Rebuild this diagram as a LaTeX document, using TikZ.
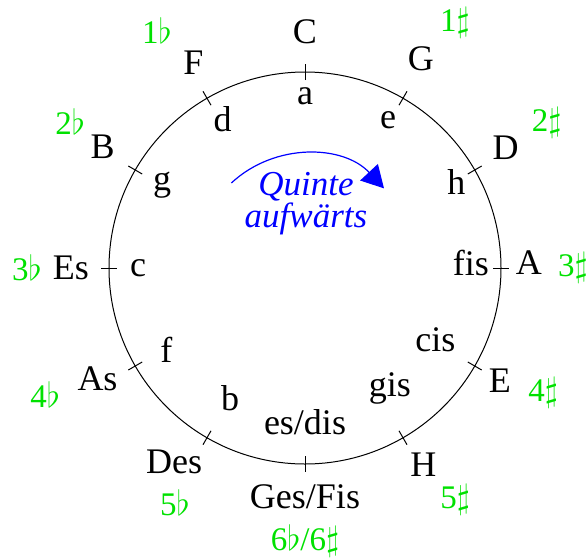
\documentclass[tikz,border=0pt]{standalone}
\usepackage{fontspec}
\setmainfont{Liberation Serif}
\usepackage{xcolor}
\usetikzlibrary{arrows.meta}
\definecolor{keygreen}{RGB}{0,225,0}
\tikzset{
  durlbl/.style={font=\fontsize{18}{18}\selectfont, inner sep=0pt},
  mollbl/.style={font=\fontsize{18}{18}\selectfont, inner sep=0pt},
  vzlbl/.style={font=\fontsize{16.5}{16.5}\selectfont, text=keygreen, inner sep=0pt},
}

\begin{document}
\begin{tikzpicture}[
  x=0.5pt, y=0.5pt,
  tick/.style={line width=0.5pt},
  dirarr/.style={-{Triangle[length=11pt, width=12pt]}, blue, line width=0.6pt},
]
  \useasboundingbox (-305,-290) rectangle (282,268);
  \draw[line width=0.5pt] (0,0) coordinate (m) circle (196);
  \foreach \a in {0,30,...,330}
    \draw[tick] (\a:188) -- (\a:204);
  % Dur outside
  \foreach \a/\r/\t [count=\i] in {90/236/C, 61/239/G, 31/234/D, 1.5/224/A,
      -30/225/E, -59/230/H, -90/229/{Ges/Fis}, -124/234/Des, -152/235/As,
      180/234/Es, 149/236/B, 118.5/234/F}
    \node[durlbl] (dur\i) at (\a:\r) {\t};
  % moll inside
  \foreach \a/\r/\t [count=\i] in {90/172/a, 60.7/170/e, 29.6/174/h, 1.7/166/fis,
      -29/149/cis, -54.7/147/gis, -90/154/{es/dis}, -120/150/b, -149.5/161/f,
      180/167/c, 150/165/g, 119/170/d}
    \node[mollbl] (moll\i) at (\a:\r) {\t};
  % Vorzeichen
  \foreach \a/\r/\t [count=\i] in {58.5/287/{1$\sharp$}, 31/282/{2$\sharp$},
      0/268/{3$\sharp$}, -27.7/269/{4$\sharp$}, -57/276/{5$\sharp$},
      -90/273/{6$\flat$/6$\sharp$}, -119/268/{5$\flat$}, -154/289/{4$\flat$},
      180/278/{3$\flat$}, 148/277/{2$\flat$}, 121.9/280/{1$\flat$}}
    \node[vzlbl] (vz\i) at (\a:\r) {\t};
  \draw[dirarr] ([shift={(133:108)}]0,6) arc[start angle=133, end angle=43, radius=108];
  \node[font=\fontsize{17.5}{16}\selectfont\itshape, text=blue, align=center, inner sep=0pt]
    (dir) at (1,64) {Quinte\\aufwärts};
\end{tikzpicture}
\end{document}
